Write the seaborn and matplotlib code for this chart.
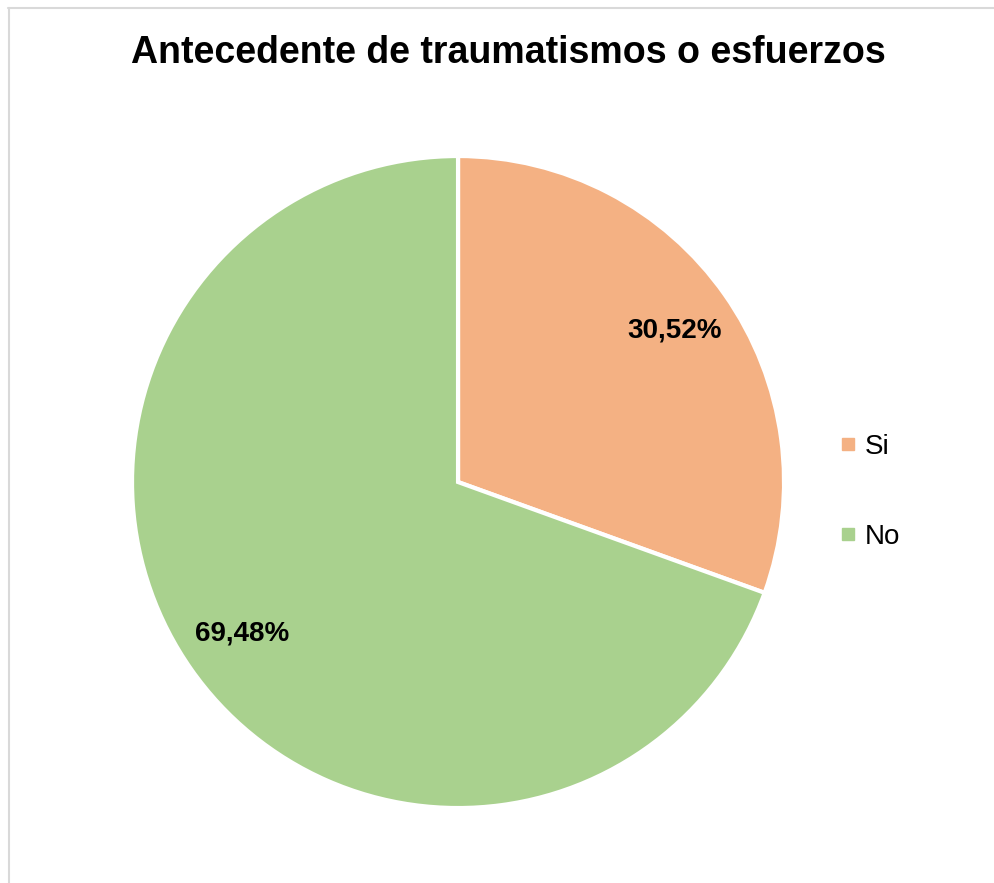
import matplotlib.pyplot as plt
import seaborn as sns
from matplotlib.lines import Line2D

categorias = ["Si", "No"]
porcentajes = [30.52, 69.48]
colores = ["#F4B183", "#A9D18E"]

sns.set_theme(style="white")
plt.rcParams['font.family'] = ['Liberation Sans', 'DejaVu Sans']
plt.rcParams['text.color'] = 'black'

fig = plt.figure(figsize=(9.94, 8.83), dpi=100)
ax = fig.add_axes([0.1328, 0.0849, 0.656, 0.7384])

wedges, textos, pcts = ax.pie(
    porcentajes,
    colors=colores,
    startangle=90,
    counterclock=False,
    autopct=lambda p: f"{p:.2f}%".replace(".", ","),
    pctdistance=0.81,
    wedgeprops=dict(edgecolor="white", linewidth=3),
    textprops=dict(fontsize=20, fontweight="bold", color="black"),
)
ax.set_xlim(-1.0, 1.0)
ax.set_ylim(-1.0, 1.0)
ax.set_aspect("equal")

fig.text(0.511, 0.94, "Antecedente de traumatismos o esfuerzos",
         ha="center", va="center", fontsize=27, fontweight="bold", color="black")

# leyenda con cuadritos
handles = [Line2D([], [], marker="s", linestyle="none", markersize=8,
                  markerfacecolor=c, markeredgecolor=c) for c in colores]
leg = fig.legend(handles, categorias, loc="center left", bbox_to_anchor=(0.82, 0.443),
                 frameon=False, fontsize=20, handlelength=0.6, handletextpad=0.3,
                 labelspacing=2.3)
for t in leg.get_texts():
    t.set_color("black")

# marco gris
fig.add_artist(Line2D([0.008, 1.0], [1 - 7.5 / 883, 1 - 7.5 / 883], color="#D9D9D9", linewidth=1.5))
fig.add_artist(Line2D([8.5 / 994, 8.5 / 994], [0, 1 - 7.5 / 883], color="#D9D9D9", linewidth=1.5))

fig.savefig("out.png", dpi=100, facecolor="white")
